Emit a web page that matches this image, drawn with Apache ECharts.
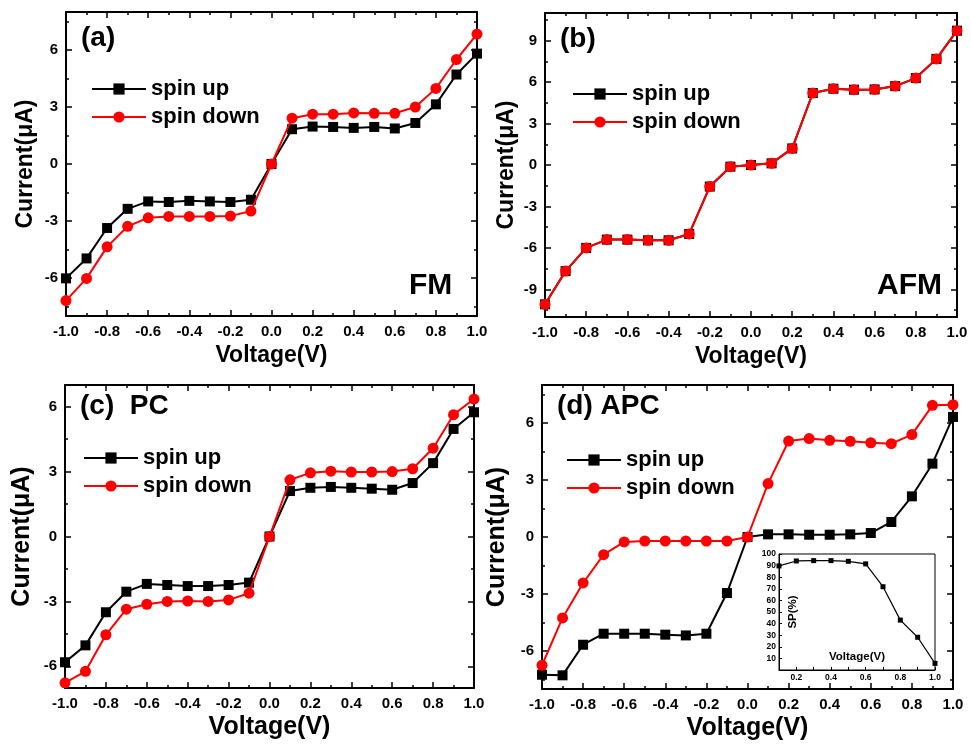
<!DOCTYPE html>
<html>
<head>
<meta charset="utf-8">
<script src="https://cdn.jsdelivr.net/npm/echarts@6/dist/echarts.min.js"></script>
<style>html,body{margin:0;background:#fff}#chart{width:971px;height:744px}</style>
</head>
<body>
<div id="chart"></div>
<script>
// bias voltage (V), shared by all four panels
var voltage = [-1.0, -0.9, -0.8, -0.7, -0.6, -0.5, -0.4, -0.3, -0.2, -0.1, 0.0,
               0.1, 0.2, 0.3, 0.4, 0.5, 0.6, 0.7, 0.8, 0.9, 1.0];

// (a) FM
var fmUp   = [-6.02, -4.97, -3.37, -2.36, -1.97, -2.00, -1.94, -1.97, -2.00, -1.88, 0,
              1.83, 1.97, 1.95, 1.90, 1.95, 1.87, 2.16, 3.14, 4.71, 5.81];
var fmDown = [-7.19, -6.02, -4.36, -3.28, -2.83, -2.76, -2.76, -2.76, -2.74, -2.48, 0,
              2.41, 2.62, 2.62, 2.69, 2.67, 2.67, 3.00, 3.98, 5.50, 6.84];
// (b) AFM
var afmUp   = [-10.08, -7.68, -6.00, -5.40, -5.40, -5.45, -5.45, -4.99, -1.56, -0.12, 0,
               0.12, 1.20, 5.21, 5.52, 5.45, 5.47, 5.71, 6.29, 7.68, 9.72];
var afmDown = [-10.08, -7.68, -6.00, -5.40, -5.40, -5.45, -5.45, -4.99, -1.56, -0.12, 0,
               0.12, 1.20, 5.21, 5.52, 5.45, 5.47, 5.71, 6.29, 7.68, 9.72];
// (c) PC
var pcUp   = [-5.81, -5.03, -3.50, -2.55, -2.19, -2.24, -2.29, -2.29, -2.24, -2.13, 0,
              2.10, 2.25, 2.29, 2.25, 2.21, 2.16, 2.47, 3.39, 4.97, 5.74];
var pcDown = [-6.76, -6.23, -4.54, -3.36, -3.13, -3.00, -2.98, -3.00, -2.93, -2.62, 0,
              2.62, 2.94, 3.02, 2.98, 2.98, 3.00, 3.13, 4.08, 5.63, 6.35];
// (d) APC
var apcUp   = [-7.25, -7.28, -5.67, -5.09, -5.09, -5.09, -5.14, -5.18, -5.09, -2.95, 0,
               0.14, 0.14, 0.12, 0.12, 0.14, 0.21, 0.79, 2.14, 3.86, 6.32];
var apcDown = [-6.75, -4.26, -2.42, -0.93, -0.26, -0.21, -0.21, -0.21, -0.21, -0.21, 0,
               2.81, 5.05, 5.18, 5.09, 5.04, 4.96, 4.91, 5.39, 6.93, 6.96];
// inset: spin polarization
var spVoltage = [0.1, 0.2, 0.3, 0.4, 0.5, 0.6, 0.7, 0.8, 0.9, 1.0];
var spValues  = [89.7, 94.0, 94.3, 94.3, 93.7, 91.5, 71.8, 43.0, 28.2, 5.7];

// tick labels
var ticksA = [-6, -3, 0, 3, 6];
var ticksB = [-9, -6, -3, 0, 3, 6, 9];
var ticksC = [-6, -3, 0, 3, 6];
var ticksD = [-6, -3, 0, 3, 6];
var spXTicks = [0.2, 0.4, 0.6, 0.8, 1.0];
var spYTicks = [10, 20, 30, 40, 50, 60, 70, 80, 90, 100];

var font = 'Arial, "Liberation Sans", sans-serif';
var grids = [], xAxes = [], yAxes = [], series = [];

function zip(xs, ys) {
    return xs.map(function (x, i) { return [x, ys[i]]; });
}
function fmt1(v) {
    if (Math.abs(v) < 1e-9) v = 0;
    return v.toFixed(1);
}
function minorsOf(ticks, min, max) {
    var out = [];
    var step = ticks[1] - ticks[0];
    for (var t = ticks[0] - step / 2; t < max; t += step) {
        if (t > min) out.push(t);
    }
    return out;
}

function addPanel(p) {
    var g = grids.length;
    grids.push({left: p.left, top: p.top, width: p.width, height: p.height});
    var xi = xAxes.length;
    var lbl = {fontFamily: font, fontWeight: 'bold', fontSize: 15, color: '#000', margin: 8};
    var nameStyle = {fontFamily: font, fontWeight: 'bold', fontSize: p.nameSize, color: '#000'};
    ['bottom', 'top'].forEach(function (pos) {
        xAxes.push({
            type: 'value', gridIndex: g, position: pos, min: -1, max: 1, interval: 0.2,
            name: pos === 'bottom' ? 'Voltage(V)' : '', nameLocation: 'middle', nameGap: p.xGap,
            nameTextStyle: nameStyle,
            axisLine: {onZero: false, lineStyle: {color: '#000', width: 2}},
            axisTick: {inside: true, length: 6, lineStyle: {color: '#000', width: 1.5}},
            minorTick: {show: true, splitNumber: 2, length: 3, lineStyle: {color: '#000', width: 1.5}},
            axisLabel: pos === 'bottom' ? Object.assign({formatter: fmt1}, lbl) : {show: false},
            splitLine: {show: false}
        });
    });
    var yi = yAxes.length;
    var minors = minorsOf(p.ticks, p.yMin, p.yMax);
    ['left', 'right'].forEach(function (pos) {
        yAxes.push({
            type: 'value', gridIndex: g, position: pos, min: p.yMin, max: p.yMax,
            name: pos === 'left' ? 'Current(\u03bcA)' : '', nameLocation: 'middle', nameGap: p.yGap,
            nameTextStyle: nameStyle,
            axisLine: {onZero: false, lineStyle: {color: '#000', width: 2}},
            axisTick: {inside: true, length: 6, customValues: p.ticks, lineStyle: {color: '#000', width: 1.5}},
            axisLabel: pos === 'left' ? Object.assign({customValues: p.ticks}, lbl) : {show: false},
            splitLine: {show: false}
        });
        yAxes.push({
            type: 'value', gridIndex: g, position: pos, min: p.yMin, max: p.yMax,
            axisLine: {show: false, onZero: false},
            axisTick: {inside: true, length: 3, customValues: minors, lineStyle: {color: '#000', width: 1.5}},
            axisLabel: {show: false},
            splitLine: {show: false}
        });
    });
    series.push({
        type: 'line', name: 'spin up', xAxisIndex: xi, yAxisIndex: yi,
        data: zip(voltage, p.up), symbol: 'rect', symbolSize: 10,
        lineStyle: {color: '#000', width: 2}, itemStyle: {color: '#000'}, z: 3
    });
    series.push({
        type: 'line', name: 'spin down', xAxisIndex: xi, yAxisIndex: yi,
        data: zip(voltage, p.down), symbol: 'circle', symbolSize: 11,
        lineStyle: {color: '#ff0000', width: 2}, itemStyle: {color: '#ff0000'}, z: 4
    });
}

addPanel({left: 66, top: 12, width: 411, height: 304, yMin: -8, yMax: 8, ticks: ticksA,
          up: fmUp, down: fmDown, nameSize: 23, xGap: 28, yGap: 29});
addPanel({left: 545, top: 13, width: 412, height: 304, yMin: -11, yMax: 11, ticks: ticksB,
          up: afmUp, down: afmDown, nameSize: 23, xGap: 28, yGap: 27});
addPanel({left: 65, top: 385, width: 409, height: 303, yMin: -7, yMax: 7, ticks: ticksC,
          up: pcUp, down: pcDown, nameSize: 25, xGap: 27, yGap: 30});
addPanel({left: 542, top: 385, width: 411, height: 304, yMin: -8, yMax: 8, ticks: ticksD,
          up: apcUp, down: apcDown, nameSize: 25, xGap: 27, yGap: 32});

// inset
var gi = grids.length;
grids.push({left: 779, top: 554, width: 156, height: 116, show: true,
            borderColor: '#000', borderWidth: 1, backgroundColor: '#fff', z: 5});
var insetLbl = {fontFamily: font, fontWeight: 'bold', fontSize: 8.5, color: '#000', margin: 3};
var insetName = {fontFamily: font, fontWeight: 'bold', fontSize: 11.5, color: '#000'};
var ixi = xAxes.length;
xAxes.push({
    type: 'value', gridIndex: gi, position: 'bottom', min: 0.1, max: 1.0, interval: 0.1, z: 6,
    name: 'Voltage(V)', nameLocation: 'middle', nameGap: -19, nameTextStyle: insetName,
    axisLine: {onZero: false, lineStyle: {color: '#000', width: 1}},
    axisTick: {inside: true, length: 3, lineStyle: {color: '#000'}},
    axisLabel: Object.assign({customValues: spXTicks, formatter: fmt1}, insetLbl),
    splitLine: {show: false}
});
var iyi = yAxes.length;
yAxes.push({
    type: 'value', gridIndex: gi, position: 'left', min: 0, max: 100, z: 6,
    name: 'SP(%)', nameLocation: 'middle', nameGap: -20, nameTextStyle: insetName,
    axisLine: {onZero: false, lineStyle: {color: '#000', width: 1}},
    axisTick: {inside: true, length: 3, customValues: spYTicks, lineStyle: {color: '#000'}},
    axisLabel: Object.assign({customValues: spYTicks}, insetLbl),
    splitLine: {show: false}
});
series.push({
    type: 'line', name: 'SP', xAxisIndex: ixi, yAxisIndex: iyi, z: 7,
    data: zip(spVoltage, spValues), symbol: 'rect', symbolSize: 5,
    lineStyle: {color: '#000', width: 1.2}, itemStyle: {color: '#000'}
});

function legendAt(left, top) {
    return {
        data: ['spin up', 'spin down'], left: left, top: top, orient: 'vertical',
        padding: 0, itemWidth: 54, itemHeight: 14, itemGap: 6, selectedMode: false,
        textStyle: {fontFamily: font, fontWeight: 'bold', fontSize: 22, color: '#000'}
    };
}
function label(text, left, top, size) {
    return {text: text, left: left, top: top, padding: 0,
            textStyle: {fontFamily: font, fontWeight: 'bold', fontSize: size, color: '#000'}};
}

var chart = echarts.init(document.getElementById('chart'));
chart.setOption({
    animation: false,
    backgroundColor: '#fff',
    title: [
        label('(a)', 81, 24, 28), label('FM', 409, 271, 30),
        label('(b)', 560, 25, 28), label('AFM', 877, 271, 30),
        label('(c)  PC', 80, 392, 28), label('(d) APC', 557, 392, 28)
    ],
    legend: [legendAt(91, 78), legendAt(572, 83), legendAt(83, 447), legendAt(566, 449)],
    grid: grids,
    xAxis: xAxes,
    yAxis: yAxes,
    series: series
});
</script>
</body>
</html>
